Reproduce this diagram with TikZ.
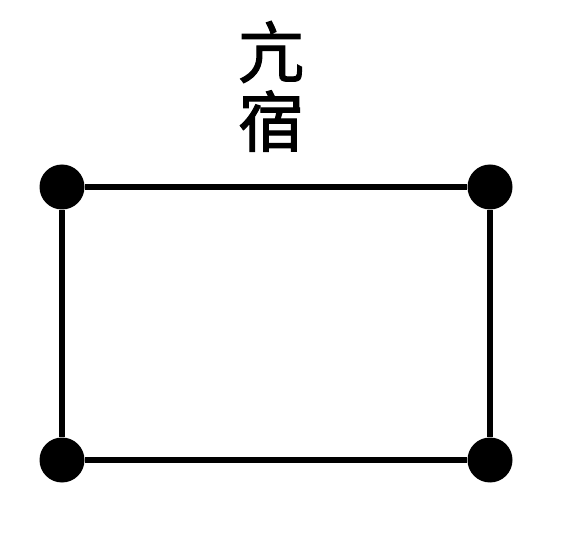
\documentclass[tikz,border=0pt]{standalone}
\usepackage{fontspec}
\newfontfamily\cjk[FakeBold=1.5]{Noto Sans CJK SC}
\begin{document}
\begin{tikzpicture}[x=1pt,y=-1pt]
\tikzset{star/.style={draw=none, fill=black, circle, minimum size=45pt, inner sep=0pt},
         glyph/.style={font=\cjk\fontsize{66}{66}\selectfont, inner sep=0pt}}
\useasboundingbox (0,0) rectangle (563,548);
\node[glyph] (t1) at (271,52) {亢};
\node[glyph] (t2) at (271,121) {宿};
\node[star] (a) at (62,187) {};
\node[star] (b) at (490,187) {};
\node[star] (c) at (62,460) {};
\node[star] (d) at (490,460) {};
\draw[line width=5.5pt] (a) -- (b);
\draw[line width=5.5pt] (b) -- (d);
\draw[line width=5.5pt] (d) -- (c);
\draw[line width=5.5pt] (c) -- (a);
\end{tikzpicture}
\end{document}
